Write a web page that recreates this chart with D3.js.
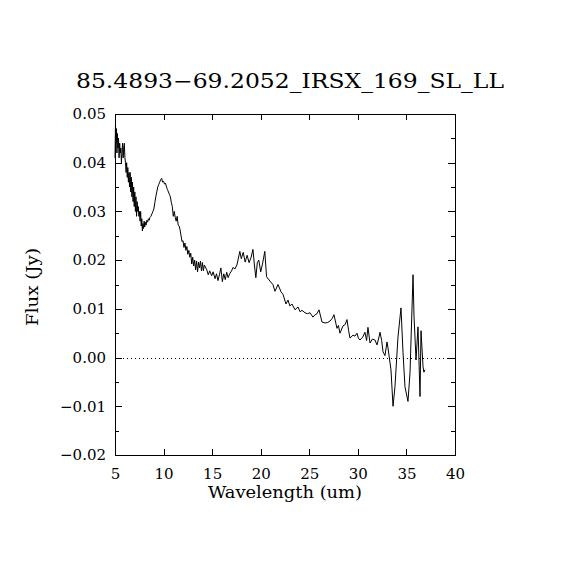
<!DOCTYPE html>
<html><head><meta charset="utf-8">
<script src="https://cdn.jsdelivr.net/npm/d3@7"></script>
<style>body{margin:0;background:#fff}svg{display:block}text{font-family:"DejaVu Serif","Liberation Serif",serif;fill:#000}</style>
</head><body>
<script>
const title = "85.4893−69.2052_IRSX_169_SL_LL";
const xLabel = "Wavelength (um)";
const yLabel = "Flux (Jy)";
const xTicks = [5,10,15,20,25,30,35,40];
const yTicks = [-0.02,-0.01,0.00,0.01,0.02,0.03,0.04,0.05];
const yMinorTicks = [-0.015,-0.005,0.005,0.015,0.025,0.035,0.045];
const wavelength = [
5.00,5.05,5.10,5.15,5.20,5.25,5.30,5.36,5.42,5.48,5.54,5.60,5.66,5.72,5.78,5.84,5.90,5.96,6.02,6.08,
6.14,6.20,6.26,6.32,6.38,6.44,6.50,6.56,6.62,6.68,6.74,6.80,6.86,6.92,6.98,7.04,7.10,7.16,7.22,7.28,
7.34,7.40,7.46,7.52,7.58,7.64,7.70,7.76,7.82,7.88,7.94,8.00,8.06,8.12,8.20,8.28,8.36,8.44,8.52,8.60,
8.70,8.80,8.90,9.00,9.10,9.20,9.30,9.40,9.50,9.60,9.70,9.80,9.90,10.00,10.10,10.20,10.30,10.40,10.50,10.60,
10.70,10.80,10.90,11.00,11.10,11.20,11.30,11.40,11.50,11.60,11.70,11.80,11.90,12.00,12.10,12.20,12.30,12.40,12.50,12.60,
12.70,12.80,12.90,13.00,13.10,13.20,13.30,13.40,13.50,13.60,13.70,13.80,13.90,14.00,14.10,14.20,
14.45,14.60,14.75,14.95,15.10,15.30,15.45,15.60,15.75,15.90,16.05,16.20,16.35,16.50,16.65,16.80,17.00,17.15,17.35,17.55,
17.85,18.00,18.20,18.40,18.60,18.80,19.00,19.20,19.35,19.50,19.65,19.80,20.00,20.20,20.42,20.60,20.95,21.25,21.47,21.78,
22.09,22.29,22.60,22.81,23.00,23.22,23.53,23.84,24.05,24.25,24.56,24.80,25.07,25.38,25.60,25.79,26.00,26.31,26.62,26.90,
27.13,27.35,27.54,27.85,28.00,28.16,28.47,28.70,28.88,29.05,29.19,29.50,29.70,29.91,30.05,30.22,30.50,30.73,30.90,31.04,
31.25,31.50,31.76,31.97,32.15,32.28,32.45,32.59,32.79,33.00,33.10,33.41,33.62,33.82,34.13,34.44,34.65,34.85,35.16,35.37,
35.68,35.78,35.99,36.19,36.40,36.50,36.71,36.80,36.91];
const flux = [
0.041,0.048,0.044,0.047,0.042,0.046,0.043,0.045,0.041,0.044,0.042,0.043,0.040,0.042,0.044,0.041,0.043,0.044,0.041,0.040,
0.038,0.040,0.037,0.039,0.036,0.038,0.035,0.038,0.034,0.037,0.033,0.036,0.032,0.035,0.031,0.034,0.030,0.033,0.029,0.032,
0.030,0.031,0.029,0.030,0.028,0.030,0.027,0.0285,0.026,0.0275,0.0265,0.028,0.0268,0.0278,0.0272,0.0282,0.0278,0.0285,0.0282,0.0288,
0.029,0.0295,0.030,0.0305,0.0318,0.033,0.034,0.035,0.0355,0.036,0.0365,0.0368,0.036,0.0362,0.0356,0.0358,0.035,0.0345,0.034,0.0335,
0.033,0.0318,0.031,0.0290,0.030,0.0288,0.0280,0.029,0.0272,0.027,0.0262,0.025,0.0238,0.024,0.0226,0.0235,0.0220,0.0228,0.0212,0.0220,
0.0206,0.0214,0.0192,0.0206,0.0188,0.0200,0.0180,0.0198,0.0176,0.0196,0.0184,0.0198,0.0178,0.0195,0.0178,0.0190,
0.0180,0.0170,0.0178,0.0168,0.0176,0.0162,0.0172,0.0158,0.0170,0.0184,0.0156,0.0172,0.0160,0.0175,0.0164,0.0172,0.0178,0.0185,0.0182,0.0190,
0.0218,0.0203,0.0216,0.0196,0.0210,0.0195,0.0205,0.0222,0.0190,0.0164,0.0195,0.0200,0.0176,0.0194,0.0218,0.0166,0.0157,0.0150,0.0136,0.0150,
0.0135,0.0130,0.0110,0.0118,0.0106,0.0110,0.0098,0.0104,0.0094,0.0097,0.0092,0.0090,0.0092,0.0083,0.0088,0.0090,0.0098,0.0073,0.0071,0.0072,
0.0075,0.0080,0.0088,0.0060,0.0066,0.0050,0.0065,0.0068,0.0078,0.0055,0.0040,0.0046,0.0044,0.0050,0.0040,0.0036,0.0042,0.0052,0.0035,0.0062,
0.0030,0.0038,0.0036,0.0026,0.0040,0.0052,0.0035,0.0012,0.0004,0.0032,0.0020,-0.0025,-0.0100,-0.0060,0.0042,0.0102,0.0010,-0.0060,-0.0090,-0.0031,
0.0170,0.0085,-0.0005,0.0063,-0.0080,0.0055,-0.0019,-0.0030,-0.0025];

const W = 570, H = 570;
const m = {left:115, right:455, top:114, bottom:455};
const svg = d3.select("body").append("svg").attr("width",W).attr("height",H);
const x = d3.scaleLinear().domain([5,40]).range([m.left,m.right]);
const y = d3.scaleLinear().domain([-0.02,0.05]).range([m.bottom,m.top]);

svg.append("rect").attr("x",m.left).attr("y",m.top).attr("width",m.right-m.left).attr("height",m.bottom-m.top)
  .attr("fill","none").attr("stroke","#000").attr("stroke-width",1).attr("shape-rendering","crispEdges");

const fmtY = v => (v<0?"−":"") + Math.abs(v).toFixed(2);

const gB = svg.append("g").attr("transform",`translate(0,${m.bottom})`)
  .call(d3.axisBottom(x).tickValues(xTicks).tickSize(-6).tickPadding(10).tickFormat(d3.format("d")));
const gT = svg.append("g").attr("transform",`translate(0,${m.top})`)
  .call(d3.axisTop(x).tickValues(xTicks).tickSize(-6).tickFormat(""));
const gL = svg.append("g").attr("transform",`translate(${m.left},0)`)
  .call(d3.axisLeft(y).tickValues(yTicks).tickSize(-7).tickPadding(9).tickFormat(fmtY));
const gLm = svg.append("g").attr("transform",`translate(${m.left},0)`)
  .call(d3.axisLeft(y).tickValues(yMinorTicks).tickSize(-4).tickFormat(""));
const gR = svg.append("g").attr("transform",`translate(${m.right},0)`)
  .call(d3.axisRight(y).tickValues(yTicks).tickSize(-7).tickFormat(""));
const gRm = svg.append("g").attr("transform",`translate(${m.right},0)`)
  .call(d3.axisRight(y).tickValues(yMinorTicks).tickSize(-4).tickFormat(""));
[gB,gT,gL,gLm,gR,gRm].forEach(g=>{
  g.select(".domain").remove();
  g.selectAll("line").attr("stroke","#000").attr("shape-rendering","crispEdges");
  g.selectAll("text").attr("font-family","DejaVu Serif").attr("font-size",15).attr("fill","#000");
});
gB.selectAll("text").attr("dy","0.9em");

svg.append("line").attr("x1",m.left).attr("x2",m.right).attr("y1",Math.round(y(0))+0.5).attr("y2",Math.round(y(0))+0.5)
  .attr("stroke","#000").attr("stroke-width",1).attr("stroke-dasharray","1,3");

const line = d3.line().x((d,i)=>x(wavelength[i])).y(d=>y(d));
svg.append("path").datum(flux).attr("d",line).attr("fill","none").attr("stroke","#000").attr("stroke-width",1);

svg.append("text").attr("x",290).attr("y",88).attr("text-anchor","middle").attr("font-size",20)
  .attr("textLength",428).attr("lengthAdjust","spacingAndGlyphs").text(title);
svg.append("text").attr("x",285).attr("y",498).attr("text-anchor","middle").attr("font-size",16)
  .attr("textLength",154).attr("lengthAdjust","spacingAndGlyphs").text(xLabel);
svg.append("text").attr("transform","translate(38,287) rotate(-90)").attr("text-anchor","middle").attr("font-size",16)
  .attr("textLength",78).attr("lengthAdjust","spacingAndGlyphs").text(yLabel);
</script>
</body></html>
